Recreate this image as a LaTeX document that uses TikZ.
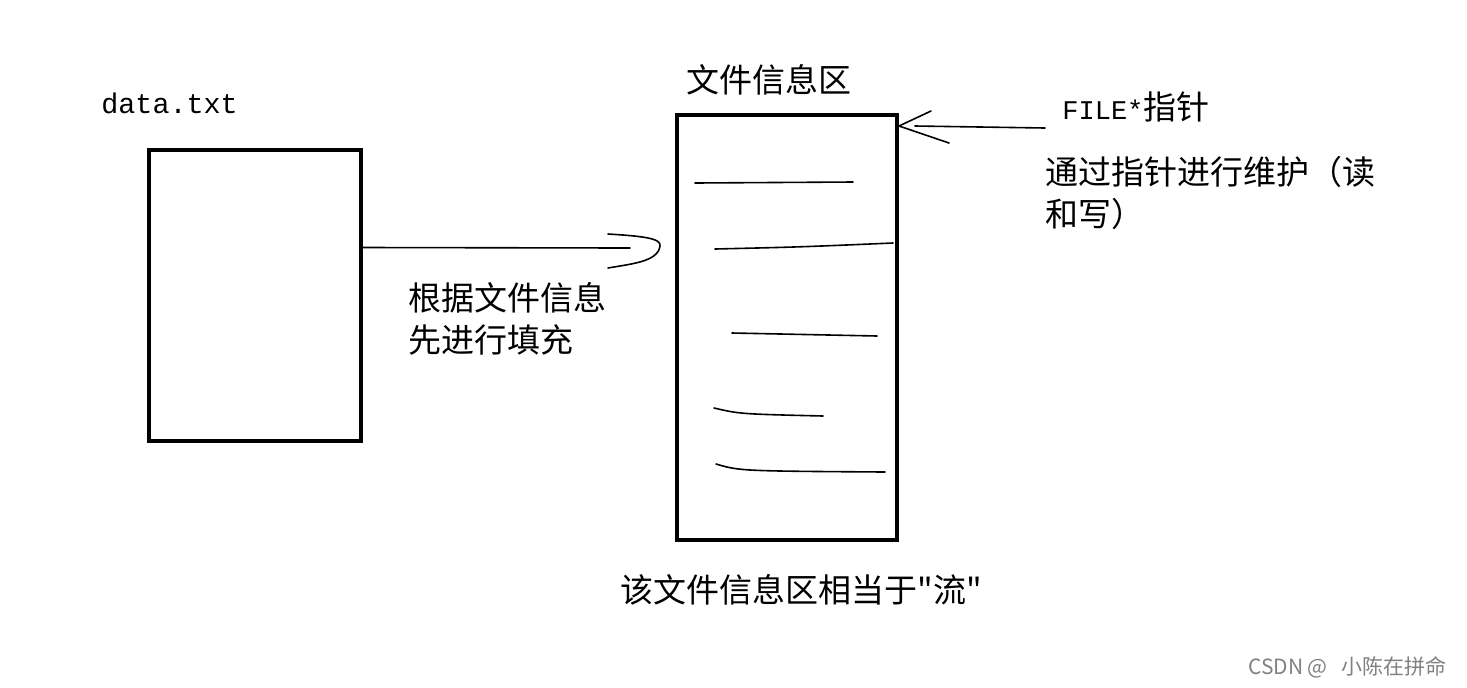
\documentclass[tikz,border=0pt]{standalone}
\usepackage{fontspec}
\newfontfamily\cjk{Noto Sans CJK SC}
\setmonofont{Liberation Mono}
\usetikzlibrary{positioning}

\begin{document}
\begin{tikzpicture}[x=0.5pt, y=-0.5pt]

\tikzset{filebox/.style = {draw, line width=2pt, inner sep=0pt}}
\tikzset{cjktext/.style = {font=\cjk\fontsize{16.5}{21}\selectfont, inner sep=0pt}}
\tikzset{monotext/.style = {font=\ttfamily\fontsize{14.2}{17}\selectfont, inner sep=0pt}}
\tikzset{stroke/.style = {line width=0.8pt, line cap=round, line join=round}}
\useasboundingbox (0,0) rectangle (1467,687);
% boxes
\node[filebox, minimum width=106pt, minimum height=145.5pt] (data) at (255,295.5) {};
\node[filebox, minimum width=110pt, minimum height=212.5pt] (info) at (787,327.5) {};
% texts
\node[monotext, anchor=west] (dataname) at (101,103) {data.txt};
\node[cjktext, anchor=west] (infoname) at (686,80) {文件信息区};
\node[cjktext, anchor=west] (ptrname) at (1062,107) {{\ttfamily\fontsize{13.5}{17}\selectfont FILE*}指针};
\node[cjktext, anchor=north west, align=left] (ptrnote) at (1045,156) {通过指针进行维护（读\\和写）};
\node[cjktext, anchor=north west, align=left] (fillnote) at (408,282) {根据文件信息\\先进行填充};
\node[cjktext, anchor=west] (streamnote) at (620,590) {该文件信息区相当于"流"};
\node[anchor=east, gray, font=\cjk\fontsize{10.5}{12}\selectfont, inner sep=0pt] (mark) at (1452,667) {CSDN @\ \ \ 小陈在拼命\ \ };
% lines inside the info box
\draw[stroke] (695,183) -- (853,182);
\draw[stroke] (715,249) .. controls (800,247) .. (893,243);
\draw[stroke] (732,333) -- (877,336);
\draw[stroke] (714,408) .. controls (740,414) .. (823,416);
\draw[stroke] (716,464) .. controls (740,471) .. (885,472);
% arrows
\coordinate (filltip) at (660,246);
\draw[stroke] ([yshift=24pt]data.east) -- (630,248);
\draw[stroke] (608,234) .. controls (640,236) and (662,238) .. (filltip) .. controls (658,262) and (630,264) .. (608,268);
\coordinate (ptrtail) at (1045,128);
\coordinate (ptrtip) at ([yshift=-6.5pt]info.north east);
\draw[stroke] (ptrtail) -- ([xshift=8pt]ptrtip);
\draw[stroke] (ptrtip) -- ++(32,-15);
\draw[stroke] (ptrtip) -- ++(50,17);
\end{tikzpicture}
\end{document}
